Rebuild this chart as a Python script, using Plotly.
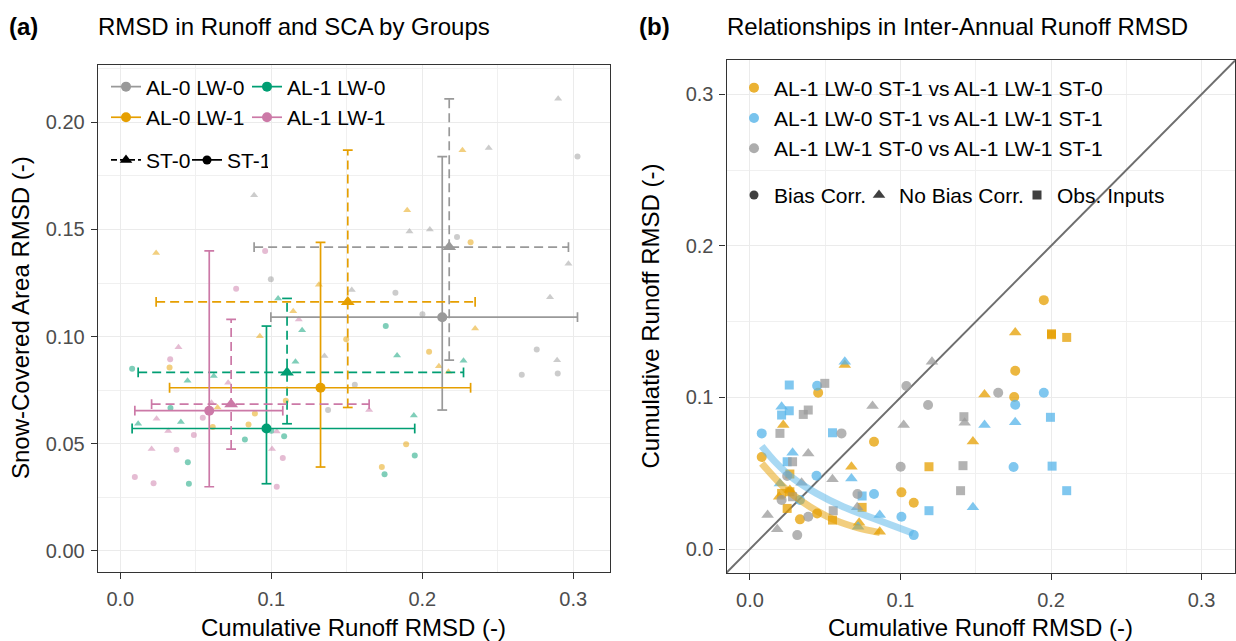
import numpy as np
import plotly.graph_objects as go

W, H = 1236, 641
FONT = "Liberation Sans, Arial, Helvetica, sans-serif"

GRAY = "#999999"
GREEN = "#009E73"
ORANGE = "#E69F00"
PINK = "#CC79A7"
BLUE = "#56B4E9"

# ---------------- panel (a): cumulative runoff RMSD vs SCA RMSD ----------------
# AL-0 LW-0
al0lw0_st0_runoff = [0.290, 0.244, 0.0886, 0.1915, 0.205, 0.2968, 0.1533, 0.2846, 0.1352, 0.2893]
al0lw0_st0_sca = [0.211, 0.188, 0.166, 0.149, 0.150, 0.134, 0.1217, 0.1183, 0.0909, 0.089]
al0lw0_st1_runoff = [0.0997, 0.3028, 0.223, 0.1822, 0.2001, 0.2758, 0.2659, 0.2897, 0.1553, 0.1376]
al0lw0_st1_sca = [0.1267, 0.184, 0.1465, 0.1205, 0.1104, 0.094, 0.0822, 0.0828, 0.0775, 0.0657]
# AL-1 LW-0
al1lw0_st0_runoff = [0.1045, 0.1204, 0.1833, 0.2273, 0.116, 0.0445, 0.0619, 0.1944, 0.0118, 0.0401]
al1lw0_st0_sca = [0.1178, 0.103, 0.0912, 0.0887, 0.0883, 0.0794, 0.0816, 0.0632, 0.0593, 0.0601]
al1lw0_st1_runoff = [0.1758, 0.0078, 0.0332, 0.1085, 0.0825, 0.195, 0.0447, 0.175, 0.0454, 0.100]
al1lw0_st1_sca = [0.1049, 0.085, 0.0666, 0.0535, 0.052, 0.0445, 0.0413, 0.0357, 0.0313, 0.056]
# AL-0 LW-1
al0lw1_st0_runoff = [0.2266, 0.190, 0.0237, 0.1315, 0.1145, 0.235, 0.0924, 0.211, 0.2173, 0.0644]
al0lw1_st0_sca = [0.187, 0.159, 0.139, 0.1242, 0.1118, 0.1038, 0.1001, 0.0862, 0.0836, 0.0669]
al0lw1_st1_runoff = [0.232, 0.1496, 0.2045, 0.0326, 0.1096, 0.0891, 0.0849, 0.1893, 0.1732, 0.0612]
al0lw1_st1_sca = [0.144, 0.0988, 0.0929, 0.0856, 0.070, 0.0641, 0.059, 0.0497, 0.0391, 0.0578]
# AL-1 LW-1
al1lw1_st0_runoff = [0.1182, 0.0385, 0.0714, 0.0604, 0.1648, 0.024, 0.0317, 0.1036, 0.0207, 0.1005]
al1lw1_st0_sca = [0.108, 0.095, 0.0784, 0.0691, 0.0657, 0.0616, 0.0559, 0.0557, 0.0475, 0.0475]
al1lw1_st1_runoff = [0.0959, 0.0767, 0.033, 0.0546, 0.0487, 0.0372, 0.1076, 0.0096, 0.022, 0.1036]
al1lw1_st1_sca = [0.140, 0.1223, 0.0894, 0.0621, 0.054, 0.0472, 0.0433, 0.0344, 0.0315, 0.0299]

group_names = ["AL-0 LW-0", "AL-1 LW-0", "AL-0 LW-1", "AL-1 LW-1"]
group_colors = [GRAY, GREEN, ORANGE, PINK]
st_names = ["ST-0", "ST-1"]

# ---------------- panel (b): inter-annual runoff RMSD pairs ----------------
pair_names = ["AL-1 LW-0 ST-1 vs AL-1 LW-1 ST-0",
              "AL-1 LW-0 ST-1 vs AL-1 LW-1 ST-1",
              "AL-1 LW-1 ST-0 vs AL-1 LW-1 ST-1"]
pair_colors = [ORANGE, BLUE, GRAY]
input_names = ["Bias Corr.", "No Bias Corr.", "Obs. Inputs"]

p1_bias_x = [0.0453, 0.0824, 0.0078, 0.1006, 0.1088, 0.0446, 0.0332, 0.1952, 0.1762, 0.1755]
p1_bias_y = [0.1031, 0.0708, 0.0607, 0.0374, 0.0305, 0.0235, 0.0196, 0.1642, 0.1176, 0.1003]
p1_nobias_x = [0.063, 0.0221, 0.0674, 0.0194, 0.0265, 0.0725, 0.0862, 0.1762, 0.1558, 0.1481]
p1_nobias_y = [0.1214, 0.0818, 0.0543, 0.0345, 0.0389, 0.0173, 0.0114, 0.1429, 0.102, 0.071]
p1_obs_x = [0.1189, 0.0265, 0.021, 0.0265, 0.0745, 0.0548, 0.0247, 0.2003, 0.2003, 0.2104]
p1_obs_y = [0.0543, 0.0495, 0.0367, 0.0378, 0.0275, 0.0191, 0.0268, 0.1414, 0.1420, 0.1396]

p2_bias_x = [0.0446, 0.0078, 0.0442, 0.0332, 0.0824, 0.1006, 0.1088, 0.1952, 0.1762, 0.1751]
p2_bias_y = [0.1077, 0.0763, 0.0484, 0.0323, 0.0363, 0.0213, 0.0092, 0.1031, 0.0952, 0.0541]
p2_nobias_x = [0.063, 0.021, 0.0283, 0.0199, 0.0674, 0.0718, 0.0862, 0.1558, 0.1762, 0.1481]
p2_nobias_y = [0.1236, 0.0939, 0.0635, 0.0433, 0.0466, 0.0147, 0.0224, 0.0818, 0.0836, 0.0275]
p2_obs_x = [0.0261, 0.0261, 0.021, 0.0548, 0.0247, 0.0745, 0.1189, 0.1996, 0.2007, 0.2104]
p2_obs_y = [0.1082, 0.0912, 0.0884, 0.0767, 0.0576, 0.035, 0.0253, 0.0869, 0.0547, 0.0385]

p3_bias_x = [0.1039, 0.1183, 0.0608, 0.1001, 0.0247, 0.021, 0.0714, 0.0387, 0.0314, 0.1649]
p3_bias_y = [0.1075, 0.095, 0.0763, 0.0543, 0.0482, 0.0323, 0.0363, 0.0213, 0.0092, 0.1031]
p3_nobias_x = [0.1209, 0.0814, 0.1021, 0.0387, 0.0343, 0.0548, 0.0712, 0.0117, 0.0181, 0.1426]
p3_nobias_y = [0.1236, 0.0943, 0.0818, 0.0631, 0.0437, 0.046, 0.0275, 0.0224, 0.013, 0.0833]
p3_obs_x = [0.0497, 0.0387, 0.0354, 0.0199, 0.0283, 0.0283, 0.0553, 0.1421, 0.1415, 0.1399]
p3_obs_y = [0.1093, 0.0917, 0.0888, 0.0763, 0.0576, 0.0345, 0.0253, 0.0873, 0.055, 0.0385]

# smoothed trends for the first two pairs
trend1_x = [0.0078, 0.0199, 0.0287, 0.0398, 0.0553, 0.0708, 0.0863]
trend1_y = [0.0565, 0.0433, 0.0356, 0.0279, 0.0196, 0.0143, 0.0108]
trend2_x = [0.0078, 0.0177, 0.0287, 0.0442, 0.0619, 0.0818, 0.1084]
trend2_y = [0.0679, 0.0565, 0.0466, 0.0367, 0.0279, 0.0203, 0.0104]

# axis ranges
xa_range = [-0.0150, 0.3240]
ya_range = [-0.0099, 0.2270]
xb_range = [-0.0156, 0.3222]
yb_range = [-0.0158, 0.3226]


def px(xp):
    return xp / W


def py(yp):
    return 1 - yp / H


fig = go.Figure()

panel_a = [
    (0, 0, al0lw0_st0_runoff, al0lw0_st0_sca), (0, 1, al0lw0_st1_runoff, al0lw0_st1_sca),
    (1, 0, al1lw0_st0_runoff, al1lw0_st0_sca), (1, 1, al1lw0_st1_runoff, al1lw0_st1_sca),
    (2, 0, al0lw1_st0_runoff, al0lw1_st0_sca), (2, 1, al0lw1_st1_runoff, al0lw1_st1_sca),
    (3, 0, al1lw1_st0_runoff, al1lw1_st0_sca), (3, 1, al1lw1_st1_runoff, al1lw1_st1_sca),
]
st_symbol = ["triangle-up", "circle"]
st_dash = ["9px,5px", "solid"]

# individual basins (faint)
for g, s, xs, ys in panel_a:
    fig.add_trace(go.Scatter(
        x=xs, y=ys, mode="markers", xaxis="x", yaxis="y", showlegend=False,
        hoverinfo="skip",
        marker=dict(symbol=st_symbol[s], size=7 if s == 0 else 6,
                    color=group_colors[g], opacity=0.5, line=dict(width=0))))

# group mean with min-max range
for g, s, xs, ys in panel_a:
    col = group_colors[g]
    mx, my = float(np.mean(xs)), float(np.mean(ys))
    x0, x1, y0, y1 = min(xs), max(xs), min(ys), max(ys)
    fig.add_trace(go.Scatter(
        x=[mx, mx, None, x0, x1], y=[y0, y1, None, my, my], mode="lines",
        xaxis="x", yaxis="y", showlegend=False, hoverinfo="skip",
        line=dict(color=col, width=1.7, dash=st_dash[s])))
    fig.add_trace(go.Scatter(
        x=[mx, mx], y=[y0, y1], mode="markers", xaxis="x", yaxis="y",
        showlegend=False, hoverinfo="skip",
        marker=dict(symbol="line-ew", size=7, line=dict(color=col, width=1.7))))
    fig.add_trace(go.Scatter(
        x=[x0, x1], y=[my, my], mode="markers", xaxis="x", yaxis="y",
        showlegend=False, hoverinfo="skip",
        marker=dict(symbol="line-ns", size=7, line=dict(color=col, width=1.7))))
for g, s, xs, ys in panel_a:
    fig.add_trace(go.Scatter(
        x=[float(np.mean(xs))], y=[float(np.mean(ys))], mode="markers",
        xaxis="x", yaxis="y", showlegend=False, hoverinfo="skip",
        marker=dict(symbol=st_symbol[s], size=12 if s == 0 else 10,
                    color=group_colors[g], line=dict(width=0))))

# legend entries for panel (a)
legend_rows = ["legend", "legend", "legend2", "legend2"]
for g in range(4):
    fig.add_trace(go.Scatter(
        x=[None], y=[None], mode="lines+markers", name=group_names[g],
        xaxis="x", yaxis="y", legend=legend_rows[g],
        line=dict(color=group_colors[g], width=1.7),
        marker=dict(symbol="circle", size=10, color=group_colors[g])))
for s in range(2):
    fig.add_trace(go.Scatter(
        x=[None], y=[None], mode="lines+markers", name=st_names[s],
        xaxis="x", yaxis="y", legend="legend3",
        line=dict(color="#000000", width=1.7, dash="6px,3px" if s == 0 else "solid"),
        marker=dict(symbol=st_symbol[s], size=11 if s == 0 else 9, color="#000000")))

# ---------------- panel (b) ----------------
fig.add_trace(go.Scatter(
    x=xb_range, y=xb_range, mode="lines", xaxis="x2", yaxis="y2",
    showlegend=False, hoverinfo="skip", line=dict(color="#6E6E6E", width=2)))

panel_b = [
    (0, 0, p1_bias_x, p1_bias_y), (0, 1, p1_nobias_x, p1_nobias_y), (0, 2, p1_obs_x, p1_obs_y),
    (1, 0, p2_bias_x, p2_bias_y), (1, 1, p2_nobias_x, p2_nobias_y), (1, 2, p2_obs_x, p2_obs_y),
    (2, 0, p3_bias_x, p3_bias_y), (2, 1, p3_nobias_x, p3_nobias_y), (2, 2, p3_obs_x, p3_obs_y),
]
input_symbol = ["circle", "triangle-up", "square"]
input_size = [10, 11, 9]
for p, k, xs, ys in panel_b:
    fig.add_trace(go.Scatter(
        x=xs, y=ys, mode="markers", xaxis="x2", yaxis="y2", showlegend=False,
        hoverinfo="skip",
        marker=dict(symbol=input_symbol[k], size=input_size[k],
                    color=pair_colors[p], opacity=0.75, line=dict(width=0))))

for tx, ty, col in [(trend1_x, trend1_y, ORANGE), (trend2_x, trend2_y, BLUE)]:
    fig.add_trace(go.Scatter(
        x=tx, y=ty, mode="lines", xaxis="x2", yaxis="y2", showlegend=False,
        hoverinfo="skip", opacity=0.5,
        line=dict(color=col, width=7, shape="spline", smoothing=1.0)))

for p in range(3):
    fig.add_trace(go.Scatter(
        x=[None], y=[None], mode="markers", name=pair_names[p],
        xaxis="x2", yaxis="y2", legend="legend4",
        marker=dict(symbol="circle", size=10, color=pair_colors[p], opacity=0.8)))
input_legend_width = [80, 113, None]
for k in range(3):
    fig.add_trace(go.Scatter(
        x=[None], y=[None], mode="markers", name=input_names[k],
        xaxis="x2", yaxis="y2", legend="legend5",
        legendwidth=input_legend_width[k],
        marker=dict(symbol=input_symbol[k], size=[9, 11, 9][k], color="#404040")))

# ---------------- axes ----------------
axis_common = dict(
    showline=True, mirror=True, linecolor="#333333", linewidth=1.1,
    ticks="outside", ticklen=6, tickwidth=1.1, tickcolor="#333333",
    showgrid=True, gridcolor="#EBEBEB", gridwidth=1.2, zeroline=False,
    tickfont=dict(family=FONT, size=20, color="#4D4D4D"),
    automargin=False, fixedrange=True,
)

fig.update_layout(
    xaxis=dict(domain=[px(97.7), px(609.5)], range=xa_range, anchor="y",
               tick0=0, dtick=0.1, tickformat=".1f", ticklabelstandoff=3,
               minor=dict(dtick=0.05, tick0=0, showgrid=True, gridcolor="#F0F0F0",
                          gridwidth=0.8, ticks=""), **axis_common),
    yaxis=dict(domain=[py(572), py(64.5)], range=ya_range, anchor="x",
               tick0=0, dtick=0.05, tickformat=".2f", ticklabelstandoff=2,
               minor=dict(dtick=0.025, tick0=0, showgrid=True, gridcolor="#F0F0F0",
                          gridwidth=0.8, ticks=""), **axis_common),
    xaxis2=dict(domain=[px(726.5), px(1235)], range=xb_range, anchor="y2",
                tick0=0, dtick=0.1, tickformat=".1f", ticklabelstandoff=3,
                minor=dict(dtick=0.05, tick0=0, showgrid=True, gridcolor="#F0F0F0",
                           gridwidth=0.8, ticks=""), **axis_common),
    yaxis2=dict(domain=[py(573), py(60)], range=yb_range, anchor="x2",
                tick0=0, dtick=0.1, tickformat=".1f", ticklabelstandoff=2,
                minor=dict(dtick=0.05, tick0=0, showgrid=True, gridcolor="#F0F0F0",
                           gridwidth=0.8, ticks=""), **axis_common),
)

legend_common = dict(
    xanchor="left", yanchor="top", bgcolor="rgba(0,0,0,0)", borderwidth=0,
    font=dict(family=FONT, size=21, color="#000000"), itemclick=False,
    itemdoubleclick=False,
)
fig.update_layout(
    legend=dict(x=px(106), y=py(66.5), orientation="h", entrywidth=96, **legend_common),
    legend2=dict(x=px(106), y=py(97.1), orientation="h", entrywidth=96, **legend_common),
    legend3=dict(x=px(106), y=py(139.8), orientation="h", entrywidth=36, **legend_common),
    legend4=dict(x=px(734), y=py(67.5), orientation="v", **legend_common),
    legend5=dict(x=px(734), y=py(174.8), orientation="h", **legend_common),
)

# ---------------- titles ----------------
def note(text, x, y, size, xanchor="center", angle=0, color="#000000"):
    return dict(text=text, x=px(x), y=py(y), xref="paper", yref="paper",
                xanchor=xanchor, yanchor="middle", showarrow=False, textangle=angle,
                font=dict(family=FONT, size=size, color=color))

fig.update_layout(annotations=[
    note("<b>(a)</b>", 24, 27, 24),
    note("RMSD in Runoff and SCA by Groups", 96, 27, 24, xanchor="left"),
    note("<b>(b)</b>", 654, 27, 24),
    note("Relationships in Inter-Annual Runoff RMSD", 725, 27, 24, xanchor="left"),
    note("Cumulative Runoff RMSD (-)", 353.6, 627, 24),
    note("Cumulative Runoff RMSD (-)", 980.8, 627, 24),
    note("Snow-Covered Area RMSD (-)", 20, 318, 24, angle=-90),
    note("Cumulative Runoff RMSD (-)", 650, 316.5, 24, angle=-90),
])

fig.update_layout(
    width=W, height=H, margin=dict(l=0, r=0, t=0, b=0, pad=0),
    paper_bgcolor="white", plot_bgcolor="white", template="none",
    font=dict(family=FONT), hovermode=False,
)

fig.write_html("out.html")
